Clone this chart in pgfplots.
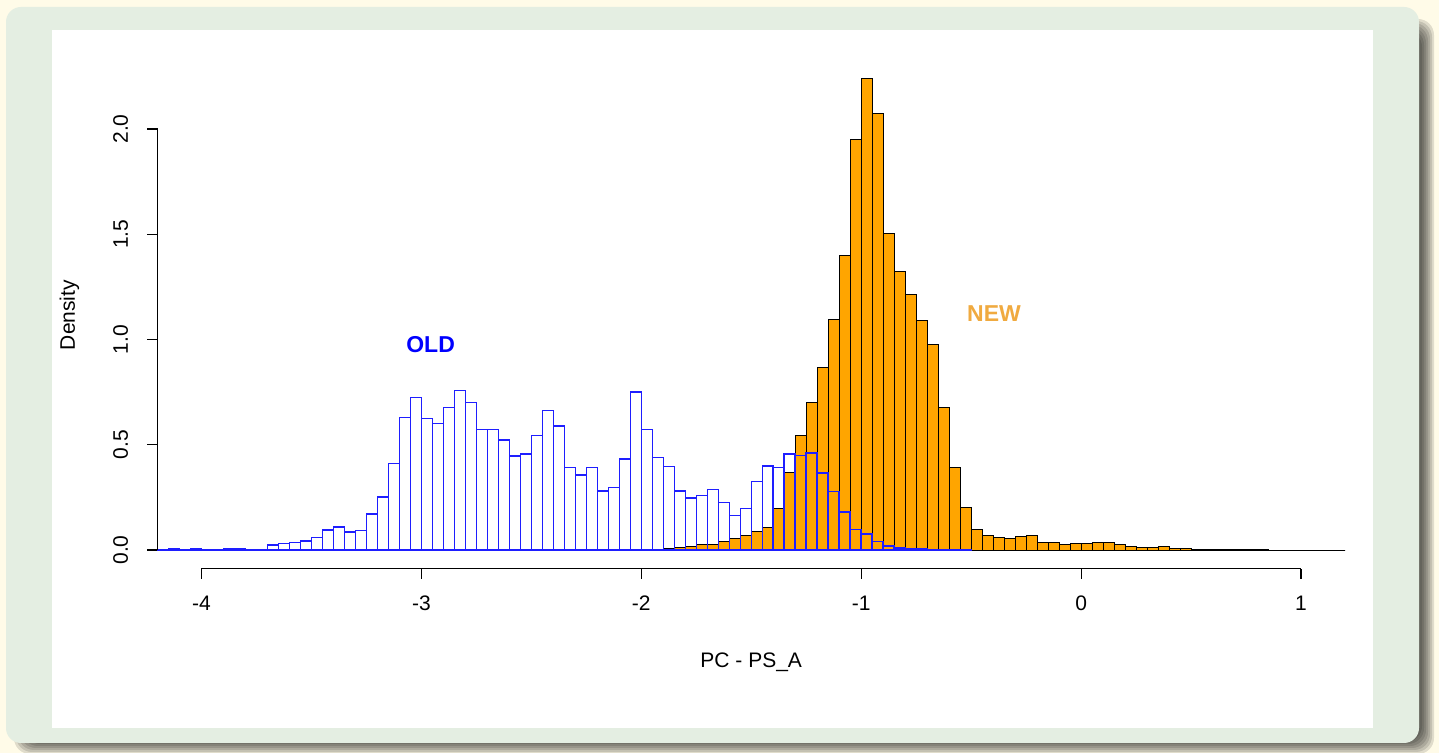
\documentclass[border=0pt]{standalone}
\usepackage{fontspec}
\setmainfont{Liberation Sans}
\usepackage{pgfplots}
\pgfplotsset{compat=1.18}

\definecolor{bgyellow}{RGB}{255,251,232}
\definecolor{panelgreen}{RGB}{228,238,226}
\definecolor{rorange}{RGB}{255,165,0}
\definecolor{newlabel}{RGB}{240,170,64}
\definecolor{oldblue}{RGB}{30,30,255}

\begin{document}
\begin{tikzpicture}
% page, panel and shadow, in pixels of the reference (y measured from the bottom)
\begin{scope}[x=0.5pt,y=0.5pt]
  \fill[bgyellow] (0,0) rectangle (1439,753);
  \foreach \e in {-6,-4,...,6}
    \fill[black,opacity=0.12,rounded corners=8pt] (20-\e,5-\e) rectangle (1428+\e,728+\e);
  \fill[panelgreen,rounded corners=7.5pt] (6,10) rectangle (1419,746);
  \fill[white] (52,25) rectangle (1373,723);
\end{scope}

\begin{axis}[
    at={(78.75pt,92.05pt)}, anchor=south west,
    scale only axis, width=593.75pt, height=254.8pt,
    xmin=-4.2, xmax=1.2, ymin=-0.0896, ymax=2.3311,
    axis lines*=left, axis line style={draw=none},
    xtick={-4,-3,-2,-1,0,1}, ytick={0,0.5,1,1.5,2},
    xticklabels={,,,,,}, yticklabels={,,,,},
    tick align=outside, major tick length=5pt,
    tick style={black, line width=0.6pt},
    clip=false,
    font=\fontsize{10.5}{12}\selectfont,
]
    % NEW
    \addplot[ybar interval, fill=rorange, draw=black, line width=0.5pt] coordinates {
        (-2.20,0.001) (-2.15,0.002) (-2.10,0.002) (-2.05,0.002) (-2.00,0.003)
        (-1.95,0.004) (-1.90,0.006) (-1.85,0.010) (-1.80,0.015) (-1.75,0.024)
        (-1.70,0.024) (-1.65,0.042) (-1.60,0.053) (-1.55,0.067) (-1.50,0.090)
        (-1.45,0.108) (-1.40,0.195) (-1.35,0.366) (-1.30,0.545) (-1.25,0.700)
        (-1.20,0.865) (-1.15,1.096) (-1.10,1.400) (-1.05,1.951) (-1.00,2.241)
        (-0.95,2.074) (-0.90,1.504) (-0.85,1.321) (-0.80,1.215) (-0.75,1.090)
        (-0.70,0.977) (-0.65,0.676) (-0.60,0.392) (-0.55,0.201) (-0.50,0.099)
        (-0.45,0.071) (-0.40,0.059) (-0.35,0.054) (-0.30,0.062) (-0.25,0.068)
        (-0.20,0.036) (-0.15,0.036) (-0.10,0.027) (-0.05,0.033) (0.00,0.032)
        (0.05,0.036) (0.10,0.038) (0.15,0.028) (0.20,0.019) (0.25,0.014)
        (0.30,0.014) (0.35,0.016) (0.40,0.008) (0.45,0.008) (0.50,0.004)
        (0.55,0.003) (0.60,0.003) (0.65,0.001) (0.70,0.001) (0.75,0.001)
        (0.80,0.001) (0.85,0) (0.90,0) (0.95,0) (1.00,0) (1.05,0) (1.10,0)
        (1.15,0) (1.20,0)
    };
    % OLD
    \addplot[ybar interval, fill=none, draw=oldblue, line width=0.75pt] coordinates {
        (-4.20,0.002) (-4.15,0.005) (-4.10,0.002) (-4.05,0.004) (-4.00,0.002)
        (-3.95,0.001) (-3.90,0.005) (-3.85,0.007) (-3.80,0.003) (-3.75,0.002)
        (-3.70,0.024) (-3.65,0.032) (-3.60,0.036) (-3.55,0.043) (-3.50,0.060)
        (-3.45,0.095) (-3.40,0.110) (-3.35,0.085) (-3.30,0.093) (-3.25,0.170)
        (-3.20,0.253) (-3.15,0.410) (-3.10,0.630) (-3.05,0.725) (-3.00,0.625)
        (-2.95,0.600) (-2.90,0.678) (-2.85,0.757) (-2.80,0.700) (-2.75,0.573)
        (-2.70,0.573) (-2.65,0.523) (-2.60,0.447) (-2.55,0.455) (-2.50,0.545)
        (-2.45,0.662) (-2.40,0.590) (-2.35,0.391) (-2.30,0.356) (-2.25,0.391)
        (-2.20,0.280) (-2.15,0.296) (-2.10,0.432) (-2.05,0.750) (-2.00,0.572)
        (-1.95,0.439) (-1.90,0.396) (-1.85,0.280) (-1.80,0.247) (-1.75,0.258)
        (-1.70,0.287) (-1.65,0.225) (-1.60,0.163) (-1.55,0.198) (-1.50,0.326)
        (-1.45,0.400) (-1.40,0.393) (-1.35,0.456) (-1.30,0.450) (-1.25,0.462)
        (-1.20,0.367) (-1.15,0.277) (-1.10,0.180) (-1.05,0.098) (-1.00,0.076)
        (-0.95,0.040) (-0.90,0.020) (-0.85,0.010) (-0.80,0.008) (-0.75,0.004)
        (-0.70,0.003) (-0.65,0.002) (-0.60,0.002) (-0.55,0.002) (-0.50,0)
    };

    % R-style detached axes
    \draw[line width=0.6pt] (axis cs:-4,-0.0896) -- (axis cs:1,-0.0896);
    \draw[line width=0.6pt] (axis cs:-4.2,0) -- (axis cs:-4.2,2);
    \pgfplotsinvokeforeach{-4,-3,-2,-1,0,1}{
        \node[anchor=base, inner sep=0pt] at ([yshift=-21pt]axis cs:#1,-0.0896) {#1};
    }
    \node[rotate=90, anchor=base, inner sep=0pt] at ([xshift=-14.75pt]axis cs:-4.2,0) {0.0};
    \node[rotate=90, anchor=base, inner sep=0pt] at ([xshift=-14.75pt]axis cs:-4.2,0.5) {0.5};
    \node[rotate=90, anchor=base, inner sep=0pt] at ([xshift=-14.75pt]axis cs:-4.2,1) {1.0};
    \node[rotate=90, anchor=base, inner sep=0pt] at ([xshift=-14.75pt]axis cs:-4.2,1.5) {1.5};
    \node[rotate=90, anchor=base, inner sep=0pt] at ([xshift=-14.75pt]axis cs:-4.2,2) {2.0};
    \node[anchor=base, inner sep=0pt] at ([yshift=-49.5pt]rel axis cs:0.5,0) {PC - PS\_A};
    \node[rotate=90, anchor=base, inner sep=0pt] at ([xshift=-41.25pt]axis cs:-4.2,1.116) {Density};

    \node[text=blue, anchor=base, inner sep=0pt, font=\fontsize{11.5}{13}\selectfont\bfseries] at (axis cs:-2.958,0.939) {OLD};
    \node[text=newlabel, anchor=base, inner sep=0pt, font=\fontsize{11.5}{13}\selectfont\bfseries] at (axis cs:-0.396,1.085) {NEW};
\end{axis}
\pgfresetboundingbox
\useasboundingbox (0,0) rectangle (719.5pt,376.5pt);
\end{tikzpicture}
\end{document}
